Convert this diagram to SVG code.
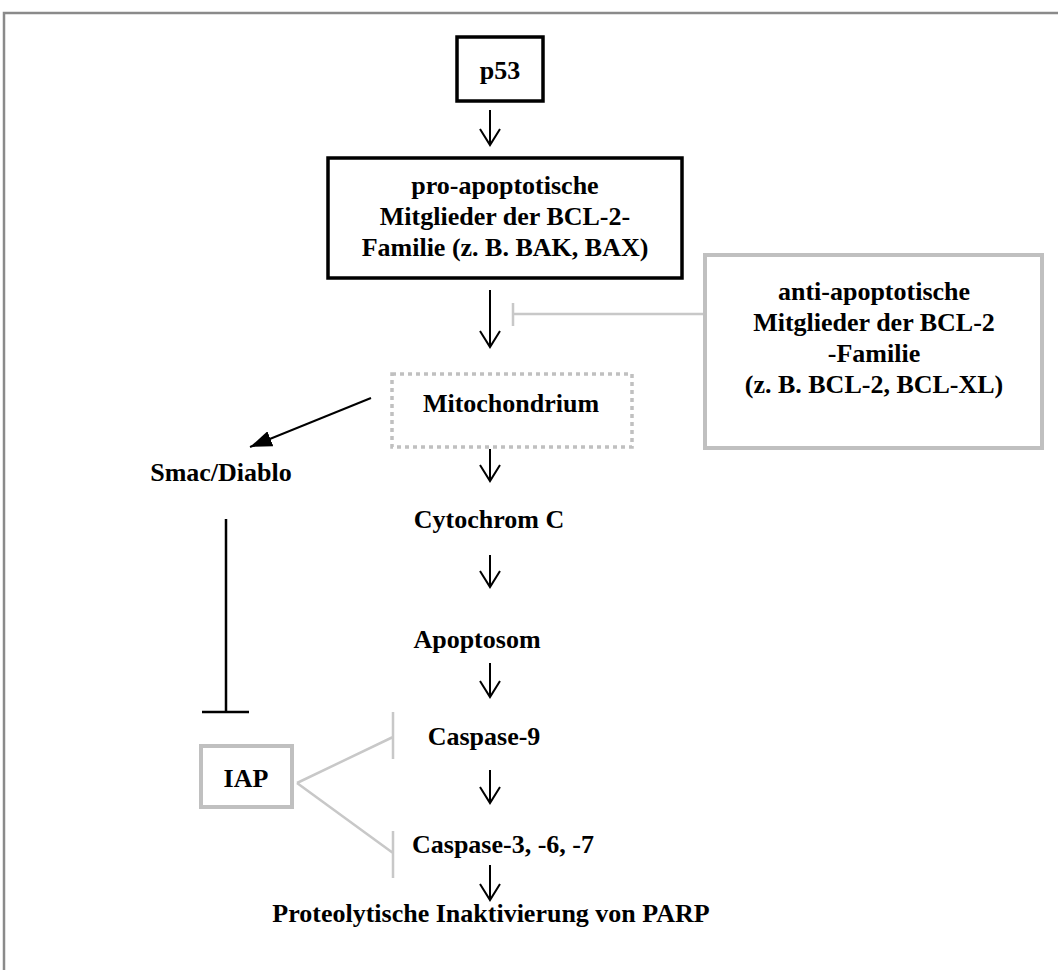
<svg xmlns="http://www.w3.org/2000/svg" width="1058" height="970" viewBox="0 0 1058 970">
<style>
  text { font-family: "Liberation Serif", "Times New Roman", serif; font-weight: bold; font-size: 26px; fill: #000; text-anchor: middle; }
  .blackbox { fill: #fff; stroke: #000; stroke-width: 3.5; }
  .graybox { fill: #fff; stroke: #c0c0c0; stroke-width: 4; }
  .dotbox { fill: #fff; stroke: #c0c0c0; stroke-width: 3.5; stroke-dasharray: 4 4; }
  .arr { stroke: #000; stroke-width: 2; fill: none; marker-end: url(#open); }
  .inhb { stroke: #000; stroke-width: 2.5; fill: none; }
  .inhg { stroke: #c8c8c8; stroke-width: 2.5; fill: none; }
</style>
<defs>
  <marker id="open" viewBox="0 0 20 24" refX="18" refY="12" markerWidth="20" markerHeight="24" markerUnits="userSpaceOnUse" orient="auto">
    <path d="M2,2 L18,12 L2,22" fill="none" stroke="#000" stroke-width="2"/>
  </marker>
  <marker id="solid" viewBox="0 0 22 16" refX="22" refY="8" markerWidth="22" markerHeight="16" markerUnits="userSpaceOnUse" orient="auto">
    <path d="M0,0 L22,8 L0,16 z" fill="#000"/>
  </marker>
</defs>
<rect x="0" y="0" width="1058" height="970" fill="#fff"/>
<rect id="frame" x="4" y="13" width="1100" height="1000" fill="none" stroke="#8a8a8a" stroke-width="2.5"/>

<g id="connectors">
  <line class="arr" x1="490" y1="110" x2="490" y2="145"/>
  <line class="arr" x1="490" y1="290" x2="490" y2="347"/>
  <line class="arr" x1="490" y1="449" x2="490" y2="481"/>
  <line class="arr" x1="490" y1="555" x2="490" y2="587"/>
  <line class="arr" x1="490" y1="663" x2="490" y2="697"/>
  <line class="arr" x1="490" y1="770" x2="490" y2="803"/>
  <line class="arr" x1="490" y1="865" x2="490" y2="900"/>
  <line x1="371" y1="398" x2="250" y2="447" stroke="#000" stroke-width="2" marker-end="url(#solid)"/>
  <path class="inhg" d="M705,314 H513 M513,303 V326"/>
  <path class="inhb" d="M226,519 V712 M202,712 H249"/>
  <path class="inhg" d="M297,783 L393,737 M393,712 V759 M297,783 L393,853 M393,831 V878"/>
</g>

<g id="p53">
  <rect class="blackbox" x="457" y="37" width="86" height="64"/>
  <text x="500" y="79">p53</text>
</g>
<g id="pro-bcl2">
  <rect class="blackbox" x="328" y="158" width="354" height="120"/>
  <text x="505" y="194">pro-apoptotische</text>
  <text x="505" y="225">Mitglieder der BCL-2-</text>
  <text x="505" y="256">Familie (z. B. BAK, BAX)</text>
</g>
<g id="anti-bcl2">
  <rect class="graybox" x="705" y="255" width="337" height="193"/>
  <text x="874" y="300">anti-apoptotische</text>
  <text x="874" y="331">Mitglieder der BCL-2</text>
  <text x="874" y="362">-Familie</text>
  <text x="874" y="393">(z. B. BCL-2, BCL-XL)</text>
</g>
<g id="mitochondrium">
  <rect class="dotbox" x="392" y="374" width="240" height="73"/>
  <text x="511" y="412">Mitochondrium</text>
</g>
<g id="smac">
  <text x="221" y="481">Smac/Diablo</text>
</g>
<g id="cytochrom">
  <text x="489" y="528">Cytochrom C</text>
</g>
<g id="apoptosom">
  <text x="477" y="648">Apoptosom</text>
</g>
<g id="iap">
  <rect class="graybox" x="201" y="746" width="91" height="61"/>
  <text x="246" y="787">IAP</text>
</g>
<g id="caspase9">
  <text x="484" y="745">Caspase-9</text>
</g>
<g id="caspase367">
  <text x="503" y="853">Caspase-3, -6, -7</text>
</g>
<g id="parp">
  <text x="491" y="922">Proteolytische Inaktivierung von PARP</text>
</g>
</svg>
